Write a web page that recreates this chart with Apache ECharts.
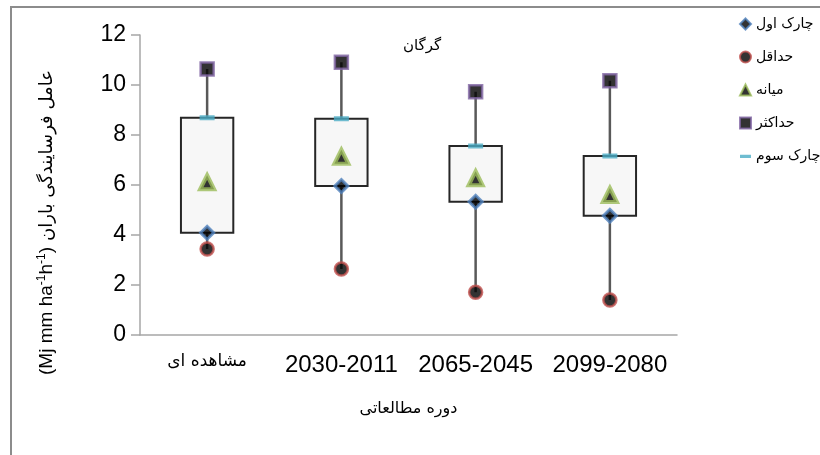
<!DOCTYPE html>
<html>
<head>
<meta charset="utf-8">
<script src="https://cdn.jsdelivr.net/npm/echarts@6/dist/echarts.min.js"></script>
<style>
  html, body { margin: 0; padding: 0; background: #fff; }
  #chart { width: 820px; height: 455px; }
</style>
</head>
<body>
<div id="chart"></div>
<script>
// دوره‌ها
var categories = ['مشاهده ای', '2030-2011', '2065-2045', '2099-2080'];
// مقادیر خوانده شده از نمودار
var minVals  = [3.44, 2.64, 1.71, 1.40];
var q1Vals   = [4.09, 5.96, 5.33, 4.77];
var meanVals = [6.11, 7.13, 6.27, 5.60];
var q3Vals   = [8.69, 8.65, 7.56, 7.16];
var maxVals  = [10.64, 10.91, 9.73, 10.17];
var yTicks   = [0, 2, 4, 6, 8, 10, 12];

var faFont = "'DejaVu Sans', 'Liberation Sans', sans-serif";
var numFont = "'Liberation Sans', Arial, sans-serif";

var boxData = [];
for (var i = 0; i < categories.length; i++) {
    boxData.push([i, minVals[i], q1Vals[i], q3Vals[i], maxVals[i]]);
}

var chart = echarts.init(document.getElementById('chart'));

var option = {
    backgroundColor: '#fff',
    animation: false,
    title: {
        text: 'گرگان',
        left: 398,
        top: 34,
        textStyle: { fontFamily: faFont, fontSize: 15, fontWeight: 'normal', color: '#000' }
    },
    grid: { left: 140, right: 143, top: 35, bottom: 120 },
    legend: {
        orient: 'vertical',
        left: 734,
        top: 12,
        itemGap: 19,
        itemWidth: 11,
        itemHeight: 11,
        textStyle: { fontFamily: faFont, fontSize: 14, color: '#000' },
        data: [
            'چارک اول', 'حداقل', 'میانه', 'حداکثر',
            // خط کوتاه برای چارک سوم
            { name: 'چارک سوم', icon: 'path://M0,0L0.01,0M0,14L0.01,14M0,5.5h14v4h-14z' }
        ]
    },
    xAxis: {
        type: 'category',
        data: categories,
        boundaryGap: true,
        name: 'دوره مطالعاتی',
        nameLocation: 'middle',
        nameGap: 66,
        nameTextStyle: { fontFamily: faFont, fontSize: 16, color: '#000' },
        axisLine: { lineStyle: { color: '#a6a6a6', width: 1.5 } },
        axisTick: { length: 10, lineStyle: { color: '#a6a6a6', width: 1.5 } },
        axisLabel: {
            margin: 18,
            color: '#000',
            formatter: function (v, idx) {
                return idx === 0 ? '{fa|' + v + '}' : '{num|' + v + '}';
            },
            rich: {
                fa: { fontFamily: faFont, fontSize: 17, color: '#000' },
                num: { fontFamily: numFont, fontSize: 24, color: '#000' }
            }
        }
    },
    yAxis: {
        type: 'value',
        min: yTicks[0],
        max: yTicks[yTicks.length - 1],
        interval: 2,
        splitLine: { show: false },
        axisLine: { show: true, lineStyle: { color: '#a6a6a6', width: 1.5 } },
        axisTick: { show: true, length: 9, lineStyle: { color: '#a6a6a6', width: 1.5 } },
        axisLabel: {
            margin: 14,
            fontFamily: numFont,
            fontSize: 23,
            color: '#000'
        }
    },
    graphic: [
        {
            type: 'rect',
            silent: true,
            shape: { x: 11, y: 7, width: 900, height: 600 },
            style: { fill: 'none', stroke: '#8c8c8c', lineWidth: 2 }
        },
        {
            // عنوان محور عمودی: دو تکه تا جهت متن به هم نریزد
            type: 'group',
            x: 47,
            y: 244,
            rotation: Math.PI / 2,
            children: [
                {
                    type: 'text',
                    x: -3,
                    y: 0,
                    style: {
                        text: '{n|(Mj mm ha}{s|-1}{n|h}{s|-1}{n|)}',
                        align: 'right',
                        verticalAlign: 'middle',
                        rich: {
                            n: { fontFamily: numFont, fontSize: 19, lineHeight: 22, fill: '#000' },
                            s: { fontFamily: numFont, fontSize: 12, lineHeight: 22, fill: '#000', verticalAlign: 'top' }
                        }
                    }
                },
                {
                    type: 'text',
                    x: 3,
                    y: 0,
                    style: {
                        text: 'عامل فرسایندگی باران',
                        fontFamily: faFont,
                        fontSize: 18,
                        fill: '#000',
                        align: 'left',
                        verticalAlign: 'middle'
                    }
                }
            ]
        }
    ],
    series: [
        {
            type: 'custom',
            name: 'box',
            z: 1,
            data: boxData,
            renderItem: function (params, api) {
                var x = api.value(0);
                var pMin = api.coord([x, api.value(1)]);
                var pQ1 = api.coord([x, api.value(2)]);
                var pQ3 = api.coord([x, api.value(3)]);
                var pMax = api.coord([x, api.value(4)]);
                var w = api.size([1, 0])[0] * 0.39;
                return {
                    type: 'group',
                    children: [
                        {
                            type: 'line',
                            shape: { x1: pMin[0], y1: pMin[1], x2: pMax[0], y2: pMax[1] },
                            style: { stroke: '#595959', lineWidth: 2.5 }
                        },
                        {
                            type: 'rect',
                            shape: { x: pQ3[0] - w / 2, y: pQ3[1], width: w, height: pQ1[1] - pQ3[1] },
                            style: { fill: '#f7f7f7', stroke: '#262626', lineWidth: 2 }
                        }
                    ]
                };
            }
        },
        {
            type: 'scatter',
            name: 'چارک اول',
            z: 3,
            data: q1Vals,
            symbol: 'diamond',
            symbolSize: 13,
            itemStyle: { color: '#000', borderColor: '#4f81bd', borderWidth: 3 }
        },
        {
            type: 'scatter',
            name: 'حداقل',
            z: 3,
            data: minVals,
            symbol: 'circle',
            symbolSize: 13,
            itemStyle: { color: '#000', borderColor: '#c0504d', borderWidth: 2.5 }
        },
        {
            type: 'scatter',
            name: 'میانه',
            z: 3,
            data: meanVals,
            symbol: 'triangle',
            symbolSize: 14,
            itemStyle: { color: '#000', borderColor: '#9bbb59', borderWidth: 4 }
        },
        {
            type: 'scatter',
            name: 'حداکثر',
            z: 3,
            data: maxVals,
            symbol: 'rect',
            symbolSize: 13,
            itemStyle: { color: '#000', borderColor: '#8064a2', borderWidth: 2.5 }
        },
        {
            type: 'scatter',
            name: 'چارک سوم',
            z: 3,
            data: q3Vals,
            symbol: 'rect',
            symbolSize: [15, 5],
            itemStyle: { color: '#4bacc6' }
        }
    ]
};

chart.setOption(option);
</script>
</body>
</html>
